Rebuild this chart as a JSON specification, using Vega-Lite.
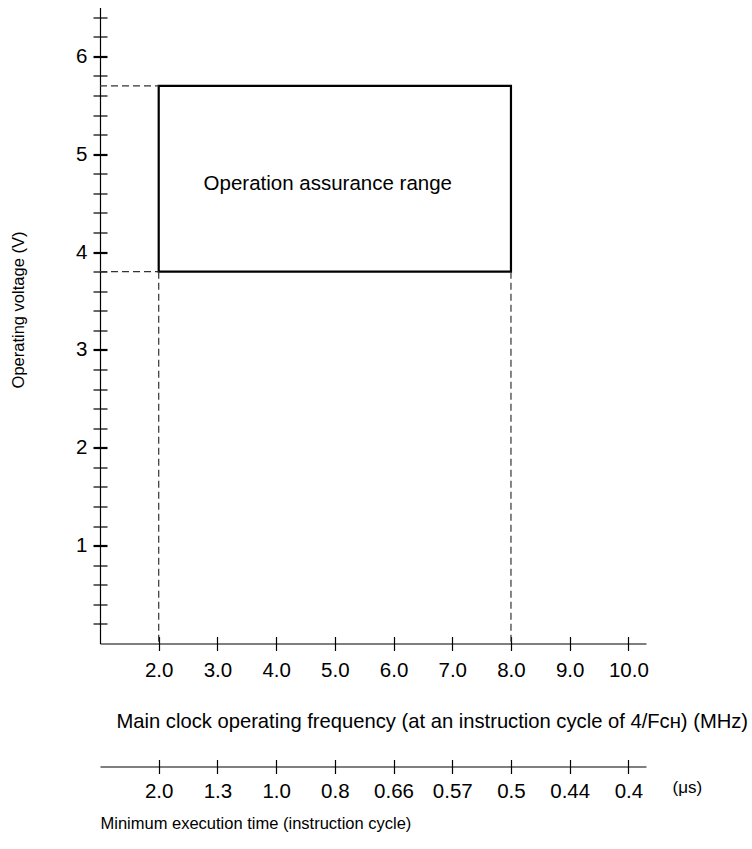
{
  "$schema": "https://vega.github.io/schema/vega-lite/v6.json",
  "width": 546,
  "height": 636,
  "autosize": {"type": "none"},
  "padding": {"left": 100, "top": 7.5, "right": 106, "bottom": 205.5},
  "background": "white",
  "config": {
    "view": {"stroke": null},
    "font": "Liberation Sans",
    "axis": {
      "grid": false,
      "domainColor": "black",
      "tickColor": "black",
      "labelColor": "black",
      "titleColor": "black",
      "labelFont": "Liberation Sans",
      "titleFont": "Liberation Sans",
      "labelFontSize": 20.5,
      "titleFontSize": 20.2,
      "titleFontWeight": "normal",
      "domainWidth": 1.2,
      "tickWidth": 1.2,
      "tickSize": 7,
      "labelFlush": false,
      "labelOverlap": false
    }
  },
  "datasets": {
    "box": [{"f1": 2, "f2": 8, "v1": 3.8, "v2": 5.7}],
    "vlines": [{"f": 2, "v": 3.8}, {"f": 8, "v": 3.8}],
    "hlines": [{"f0": 1, "f": 2, "v": 5.7}, {"f0": 1, "f": 2, "v": 3.8}],
    "label": [{"label": "Operation assurance range", "f": 4.88, "v": 4.63}]
  },
  "layer": [
    {
      "data": {"name": "box"},
      "mark": {"type": "rect", "fill": "white", "fillOpacity": 0, "stroke": "black", "strokeWidth": 2.2},
      "encoding": {
        "x": {
          "field": "f1", "type": "quantitative",
          "scale": {"domain": [1, 10.3], "nice": false, "zero": false},
          "axis": {
            "orient": "bottom",
            "values": [2, 3, 4, 5, 6, 7, 8, 9, 10],
            "format": ".1f",
            "labelPadding": 10,
            "title": "Main clock operating frequency (at an instruction cycle of 4/Fᴄʜ) (MHz)",
            "titleX": 16,
            "titleY": 83.5,
            "titleAlign": "left",
            "titleAnchor": "start",
            "titleBaseline": "alphabetic"
          }
        },
        "x2": {"field": "f2"},
        "y": {
          "field": "v1", "type": "quantitative",
          "scale": {"domain": [0, 6.5], "nice": false, "zero": false},
          "axis": {
            "orient": "left",
            "values": [0.2, 0.4, 0.6, 0.8, 1, 1.2, 1.4, 1.6, 1.8, 2, 2.2, 2.4, 2.6, 2.8, 3, 3.2, 3.4, 3.6, 3.8, 4, 4.2, 4.4, 4.6, 4.8, 5, 5.2, 5.4, 5.6, 5.8, 6, 6.2, 6.4],
            "labelExpr": "abs(datum.value - round(datum.value)) < 0.01 ? format(round(datum.value), 'd') : ''",
            "tickWidth": {"condition": {"test": "abs(datum.value - round(datum.value)) < 0.01", "value": 2.2}, "value": 1.2},
            "labelPadding": 6,
            "title": "Operating voltage (V)",
            "titleFontSize": 16.5,
            "titleX": -76.5,
            "titleY": 302,
            "titleAngle": -90,
            "titleAlign": "center",
            "titleBaseline": "alphabetic"
          }
        },
        "y2": {"field": "v2"}
      }
    },
    {
      "data": {"name": "vlines"},
      "mark": {"type": "rule", "color": "#333", "strokeWidth": 1.2, "strokeDash": [7, 4]},
      "encoding": {
        "x": {
          "field": "f", "type": "quantitative",
          "scale": {"domain": [1, 10.3], "nice": false, "zero": false},
          "axis": {
            "orient": "bottom",
            "offset": -7,
            "values": [2, 3, 4, 5, 6, 7, 8, 9, 10],
            "labels": false,
            "domain": false,
            "title": null
          }
        },
        "y": {
          "field": "v", "type": "quantitative",
          "scale": {"domain": [0, 6.5], "nice": false, "zero": false},
          "axis": {
            "orient": "left",
            "offset": -7,
            "values": [0.2, 0.4, 0.6, 0.8, 1, 1.2, 1.4, 1.6, 1.8, 2, 2.2, 2.4, 2.6, 2.8, 3, 3.2, 3.4, 3.6, 3.8, 4, 4.2, 4.4, 4.6, 4.8, 5, 5.2, 5.4, 5.6, 5.8, 6, 6.2, 6.4],
            "tickWidth": {"condition": {"test": "abs(datum.value - round(datum.value)) < 0.01", "value": 2.2}, "value": 1.2},
            "labels": false,
            "domain": false,
            "title": null
          }
        },
        "y2": {"datum": 0}
      }
    },
    {
      "data": {"name": "hlines"},
      "mark": {"type": "rule", "color": "#333", "strokeWidth": 1.2, "strokeDash": [7, 4]},
      "encoding": {
        "x": {
          "field": "f0", "type": "quantitative",
          "scale": {"domain": [1, 10.3], "nice": false, "zero": false},
          "axis": {
            "orient": "bottom",
            "offset": 123,
            "values": [2, 3, 4, 5, 6, 7, 8, 9, 10],
            "labelExpr": "datum.value == 2 ? '2.0' : datum.value == 3 ? '1.3' : datum.value == 4 ? '1.0' : datum.value == 5 ? '0.8' : datum.value == 6 ? '0.66' : datum.value == 7 ? '0.57' : datum.value == 8 ? '0.5' : datum.value == 9 ? '0.44' : '0.4'",
            "labelPadding": 8,
            "title": "Minimum execution time (instruction cycle)",
            "titleFontSize": 16.5,
            "titleX": 0,
            "titleY": 62,
            "titleAlign": "left",
            "titleAnchor": "start",
            "titleBaseline": "alphabetic"
          }
        },
        "x2": {"field": "f"},
        "y": {
          "field": "v", "type": "quantitative",
          "scale": {"domain": [0, 6.5], "nice": false, "zero": false},
          "axis": null
        }
      }
    },
    {
      "data": {"name": "label"},
      "mark": {"type": "text", "fontSize": 20.5, "font": "Liberation Sans", "align": "center", "baseline": "alphabetic", "color": "black"},
      "encoding": {
        "x": {
          "field": "f", "type": "quantitative",
          "scale": {"domain": [1, 10.3], "nice": false, "zero": false},
          "axis": {
            "orient": "bottom",
            "offset": 116,
            "values": [2, 3, 4, 5, 6, 7, 8, 9, 10],
            "labels": false,
            "domain": false,
            "title": "(μs)",
            "titleFontSize": 17,
            "titleX": 572,
            "titleY": 33,
            "titleAlign": "left",
            "titleAnchor": "start",
            "titleBaseline": "alphabetic"
          }
        },
        "y": {
          "field": "v", "type": "quantitative",
          "scale": {"domain": [0, 6.5], "nice": false, "zero": false},
          "axis": null
        },
        "text": {"field": "label"}
      }
    }
  ],
  "resolve": {"axis": {"x": "independent", "y": "independent"}}
}
